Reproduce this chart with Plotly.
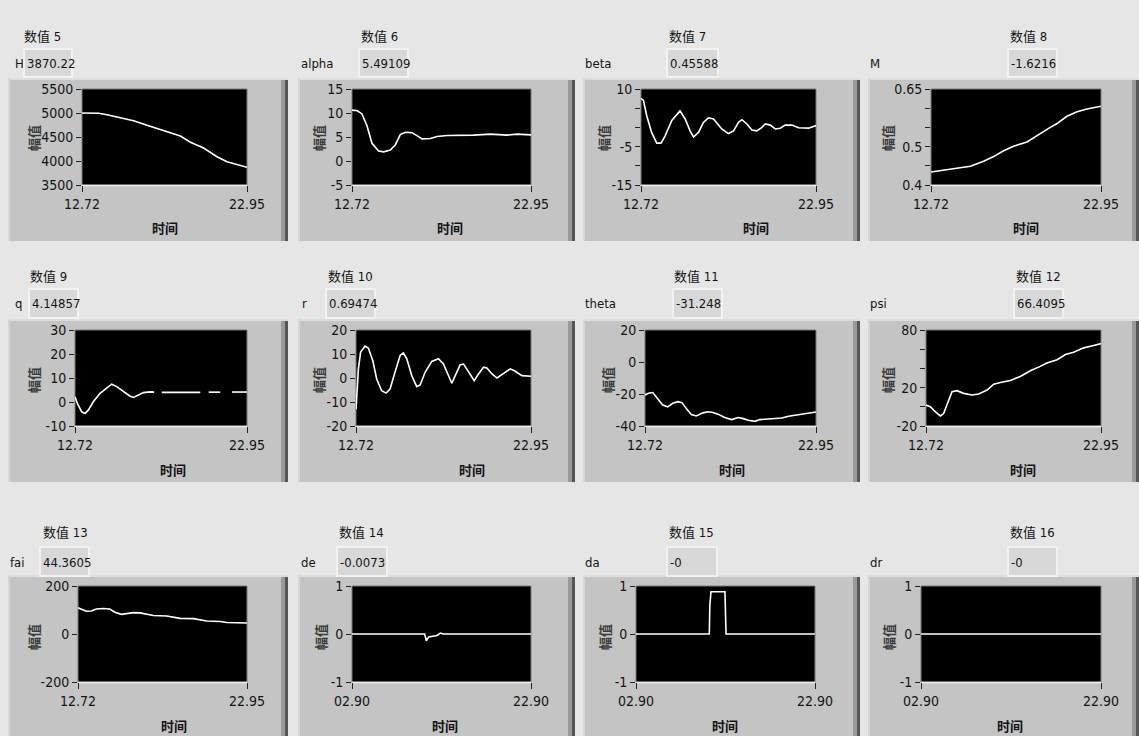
import plotly.graph_objects as go

# ---------------- data ----------------
t_H = [12.72, 13.75, 14.27, 15.92, 16.75, 17.58, 18.82, 19.44, 20.26, 21.09, 21.71, 22.95]
H_vals = [5000, 4995, 4965, 4840, 4745, 4660, 4520, 4390, 4270, 4090, 3985, 3870]

t_alpha = [12.72, 13.01, 13.29, 13.58, 13.86, 14.24, 14.53, 14.91, 15.20, 15.48, 15.77, 16.15,
           16.43, 16.72, 17.20, 17.58, 18.15, 18.72, 19.67, 20.63, 21.58, 22.15, 22.95]
alpha_vals = [10.6, 10.5, 9.8, 7.3, 3.7, 2.1, 1.9, 2.3, 3.4, 5.5, 6.0, 5.9,
              5.3, 4.6, 4.7, 5.1, 5.3, 5.3, 5.4, 5.6, 5.4, 5.6, 5.45]

t_beta = [12.72, 12.86, 13.05, 13.34, 13.64, 13.89, 14.13, 14.52, 15.00, 15.30, 15.59, 15.79,
          16.08, 16.37, 16.66, 16.96, 17.44, 17.83, 18.13, 18.42, 18.62, 18.91, 19.20, 19.49,
          19.79, 19.98, 20.28, 20.57, 20.86, 21.15, 21.54, 21.93, 22.52, 22.95]
beta_vals = [7.5, 7.1, 3.1, -1.3, -4.1, -4.1, -2.2, 1.8, 4.3, 2.2, -0.9, -2.5,
             -1.3, 1.3, 2.5, 2.2, -0.4, -1.6, -0.9, 1.3, 2.0, 0.9, -0.7, -0.9,
             0.0, 0.9, 0.6, -0.4, -0.2, 0.6, 0.6, -0.1, -0.2, 0.46]

t_M = [12.72, 13.08, 13.68, 14.49, 15.09, 15.89, 16.49, 17.09, 17.69, 18.50, 19.10, 19.70,
       20.30, 20.90, 21.51, 22.11, 22.95]
M_vals = [0.434, 0.436, 0.440, 0.445, 0.449, 0.462, 0.474, 0.489, 0.501, 0.512, 0.529, 0.545,
          0.560, 0.579, 0.591, 0.598, 0.605]

t_q = [12.72, 12.86, 13.12, 13.32, 13.51, 13.81, 14.21, 14.61, 14.90, 15.20, 15.60, 15.98,
       16.20, 16.49, 16.79, 17.19, 17.43, 17.60, 17.88, 20.17, 20.40, 20.67, 21.36, 21.70,
       22.06, 22.95]
q_vals = [2.2, -0.6, -4.1, -4.8, -3.4, 0.1, 3.6, 6.0, 7.4, 6.4, 4.3, 2.5,
          1.9, 2.9, 3.9, 4.2, 4.1, None, 4.0, 4.0, None, 4.1, 4.1, None,
          4.15, 4.15]

t_r = [12.72, 12.86, 12.99, 13.25, 13.44, 13.70, 13.93, 14.22, 14.48, 14.71, 15.00, 15.30,
       15.49, 15.69, 15.98, 16.27, 16.47, 16.76, 17.15, 17.54, 17.83, 18.13, 18.32, 18.52,
       18.81, 19.01, 19.30, 19.63, 19.88, 20.18, 20.37, 20.67, 20.96, 21.25, 21.74, 22.03,
       22.42, 22.95]
r_vals = [-13.1, 3.8, 10.8, 13.3, 12.5, 7.3, -0.4, -5.3, -6.3, -4.6, 2.4, 9.4,
          10.4, 8.0, 1.0, -3.6, -2.9, 2.4, 6.9, 8.0, 5.9, 1.0, -2.2, 1.0,
          5.5, 5.8, 2.4, -1.1, 1.7, 4.5, 4.2, 1.7, 0.0, 1.4, 3.8, 2.8,
          1.0, 0.7]

t_theta = [12.72, 12.92, 13.18, 13.48, 13.78, 14.08, 14.38, 14.69, 14.93, 15.19, 15.49, 15.79,
           16.19, 16.49, 16.79, 17.09, 17.49, 17.90, 18.30, 18.60, 18.90, 19.30, 19.60, 20.10,
           20.90, 21.31, 22.11, 22.51, 22.95]
theta_vals = [-20.6, -19.5, -19.1, -23.3, -26.9, -28.0, -25.8, -24.8, -25.4, -29.0, -32.8, -33.7,
              -31.8, -31.1, -31.6, -32.6, -34.7, -36.0, -34.7, -35.4, -36.4, -37.1, -36.0, -35.6,
              -35.0, -33.9, -32.8, -32.2, -31.2]

t_psi = [12.72, 12.97, 13.27, 13.56, 13.75, 13.99, 14.24, 14.53, 14.92, 15.41, 15.80, 16.29,
         16.68, 17.07, 17.65, 18.23, 18.82, 19.40, 19.79, 20.38, 20.87, 21.35, 21.94, 22.52,
         22.95]
psi_vals = [1.8, 0.0, -5.3, -9.5, -7.0, 5.3, 15.8, 16.8, 14.0, 12.3, 13.3, 17.5,
            23.5, 25.3, 27.4, 31.6, 37.5, 42.1, 45.6, 49.1, 54.4, 56.8, 61.4, 63.9,
            65.8]

t_fai = [12.72, 12.92, 13.23, 13.53, 13.83, 14.24, 14.64, 14.95, 15.35, 15.66, 16.06, 16.47,
         16.87, 17.28, 18.09, 18.49, 18.90, 19.71, 20.11, 20.52, 21.33, 21.73, 22.95]
fai_vals = [109, 104, 95, 96, 104, 106, 104, 91, 82, 85, 89, 88,
            81, 77, 75, 71, 65, 64, 60, 54, 52, 48, 46]

t_de = [2.90, 11.02, 11.21, 11.47, 12.40, 12.77, 13.07, 22.90]
de_vals = [0.0, 0.0, -0.14, -0.06, -0.03, 0.02, 0.0, 0.0]

t_da = [2.90, 11.09, 11.15, 11.28, 12.84, 12.88, 12.92, 12.96, 22.90]
da_vals = [0.0, 0.0, 0.6, 0.88, 0.88, 0.52, 0.52, 0.0, 0.0]

t_dr = [2.90, 22.90]
dr_vals = [0.0, 0.0]

names = ["H", "alpha", "beta", "M", "q", "r", "theta", "psi", "fai", "de", "da", "dr"]
number_labels = ["数值 5", "数值 6", "数值 7", "数值 8", "数值 9", "数值 10",
                 "数值 11", "数值 12", "数值 13", "数值 14", "数值 15", "数值 16"]
readouts = ["3870.22", "5.49109", "0.45588", "-1.6216", "4.14857", "0.69474",
            "-31.248", "66.4095", "44.3605", "-0.0073", "-0", "-0"]

x_ticks_a = [12.72, 22.95]
x_ticklabels_a = ["12.72", "22.95"]
x_ticks_b = [2.90, 22.90]
x_ticklabels_b = ["02.90", "22.90"]

y_ranges = [[3500, 5500], [-5, 15], [-15, 10], [0.4, 0.65], [-10, 30], [-20, 20],
            [-40, 20], [-20, 80], [-200, 200], [-1, 1], [-1, 1], [-1, 1]]
y_tickvals = [[3500, 4000, 4500, 5000, 5500], [-5, 0, 5, 10, 15], [-15, -10, -5, 0, 5, 10],
              [0.4, 0.45, 0.5, 0.55, 0.6, 0.65], [-10, 0, 10, 20, 30], [-20, -10, 0, 10, 20],
              [-40, -20, 0, 20], [-20, 0, 20, 40, 60, 80], [-200, 0, 200],
              [-1, 0, 1], [-1, 0, 1], [-1, 0, 1]]
y_ticktext = [["3500", "4000", "4500", "5000", "5500"], ["-5", "0", "5", "10", "15"],
              ["-15", "", "-5", "", "", "10"], ["0.4", "", "0.5", "", "", "0.65"],
              ["-10", "0", "10", "20", "30"], ["-20", "-10", "0", "10", "20"],
              ["-40", "-20", "0", "20"], ["-20", "", "20", "", "", "80"],
              ["-200", "0", "200"], ["-1", "0", "1"], ["-1", "0", "1"], ["-1", "0", "1"]]

series_t = [t_H, t_alpha, t_beta, t_M, t_q, t_r, t_theta, t_psi, t_fai, t_de, t_da, t_dr]
series_v = [H_vals, alpha_vals, beta_vals, M_vals, q_vals, r_vals, theta_vals, psi_vals,
            fai_vals, de_vals, da_vals, dr_vals]

# ---------------- layout geometry (pixels) ----------------
W, Hh = 1139, 736


def fx(x):
    return x / W


def fy(y):
    return 1 - y / Hh


rows = [
    dict(plot=(89, 185), frame=(78, 241), num=36, box=(49, 77), text=63, time=228, ylab=138),
    dict(plot=(330, 426), frame=(319, 482), num=277, box=(289, 318), text=303, time=469, ylab=380),
    dict(plot=(586, 682), frame=(575, 745), num=532, box=(547, 576), text=562, time=725, ylab=637),
]
frames_x = [(8, 288), (298, 575), (583, 860), (868, 1139)]

panels = [
    dict(plot=(82, 247), num=22, name=13, box=(24, 72), ylab=33, time=165),
    dict(plot=(352, 531), num=359, name=299, box=(359, 408), ylab=318, time=450),
    dict(plot=(641, 816), num=667, name=583, box=(667, 718), ylab=603, time=756),
    dict(plot=(931, 1101), num=1008, name=868, box=(1008, 1057), ylab=887, time=1026),
    dict(plot=(75, 247), num=28, name=13, box=(29, 78), ylab=33, time=173),
    dict(plot=(356, 531), num=326, name=300, box=(326, 375), ylab=318, time=472),
    dict(plot=(645, 816), num=672, name=583, box=(673, 722), ylab=607, time=732),
    dict(plot=(926, 1101), num=1014, name=868, box=(1014, 1063), ylab=887, time=1023),
    dict(plot=(78, 247), num=41, name=8, box=(40, 89), ylab=33, time=174),
    dict(plot=(352, 531), num=337, name=299, box=(337, 387), ylab=320, time=445),
    dict(plot=(636, 815), num=667, name=583, box=(667, 717), ylab=604, time=725),
    dict(plot=(921, 1101), num=1008, name=868, box=(1008, 1057), ylab=888, time=1010),
]

NARROW = "Liberation Sans Narrow, Arial Narrow, DejaVu Sans Condensed, Noto Sans CJK SC, sans-serif"
CJK = "Noto Sans CJK SC, sans-serif"
TXT = "#141414"

fig = go.Figure()
shapes = []
annotations = []
layout_axes = {}

# frames
for r in rows:
    fy0, fy1 = r["frame"]
    for (x0, x1) in frames_x:
        shapes.append(dict(type="rect", xref="paper", yref="paper", layer="below",
                           x0=fx(x0), x1=fx(x1), y0=fy(fy1), y1=fy(fy0),
                           fillcolor="#c4c4c4", line=dict(width=0)))
        shapes.append(dict(type="rect", xref="paper", yref="paper", layer="below",
                           x0=fx(x0), x1=fx(x1), y0=fy(fy0 + 2), y1=fy(fy0),
                           fillcolor="#dedede", line=dict(width=0)))
        shapes.append(dict(type="rect", xref="paper", yref="paper", layer="below",
                           x0=fx(x0), x1=fx(x0 + 2), y0=fy(fy1), y1=fy(fy0),
                           fillcolor="#d6d6d6", line=dict(width=0)))
        shapes.append(dict(type="rect", xref="paper", yref="paper", layer="below",
                           x0=fx(x1 - 7), x1=fx(x1 - 3), y0=fy(fy1), y1=fy(fy0 + 2),
                           fillcolor="#9a9a9a", line=dict(width=0)))
        shapes.append(dict(type="rect", xref="paper", yref="paper", layer="below",
                           x0=fx(x1 - 3), x1=fx(x1), y0=fy(fy1), y1=fy(fy0 + 2),
                           fillcolor="#555555", line=dict(width=0)))

for i, p in enumerate(panels):
    r = rows[i // 4]
    k = i + 1
    xa = "x" if k == 1 else f"x{k}"
    ya = "y" if k == 1 else f"y{k}"
    px0, px1 = p["plot"]
    py0, py1 = r["plot"]

    shapes.append(dict(type="rect", xref="paper", yref="paper", layer="below",
                       x0=fx(px0), x1=fx(px1), y0=fy(py1), y1=fy(py0),
                       fillcolor="black", line=dict(color="#7a7a7a", width=1)))
    shapes.append(dict(type="line", xref="paper", yref="paper", layer="below",
                       x0=fx(px0), x1=fx(px1), y0=fy(py1 + 0.5), y1=fy(py1 + 0.5),
                       line=dict(color="#eeeeee", width=1.5)))

    bx0, bx1 = p["box"]
    by0, by1 = r["box"]
    shapes.append(dict(type="rect", xref="paper", yref="paper", layer="below",
                       x0=fx(bx0), x1=fx(bx1), y0=fy(by1), y1=fy(by0),
                       fillcolor="#d8d8d8", line=dict(color="#f2f2f2", width=2)))

    xticks = x_ticks_b if i >= 9 else x_ticks_a
    xlabels = x_ticklabels_b if i >= 9 else x_ticklabels_a

    fig.add_trace(go.Scatter(x=series_t[i], y=series_v[i], mode="lines",
                             line=dict(color="white", width=1.6), connectgaps=False,
                             hoverinfo="skip", showlegend=False, xaxis=xa, yaxis=ya))

    layout_axes["xaxis" if k == 1 else f"xaxis{k}"] = dict(
        domain=[fx(px0), fx(px1)], anchor=ya, range=[xticks[0], xticks[1]],
        tickvals=xticks, ticktext=xlabels, ticks="outside", ticklen=6, tickwidth=1,
        tickcolor="#222222", showgrid=False, zeroline=False, showline=False,
        automargin=False,
        tickfont=dict(family=NARROW, size=14, color=TXT), fixedrange=True)
    layout_axes["yaxis" if k == 1 else f"yaxis{k}"] = dict(
        domain=[fy(py1), fy(py0)], anchor=xa, range=y_ranges[i],
        tickvals=y_tickvals[i], ticktext=y_ticktext[i], ticks="outside", ticklen=5,
        tickwidth=1, tickcolor="#222222", showgrid=False, zeroline=False, showline=False,
        automargin=False,
        tickfont=dict(family=NARROW, size=14, color=TXT), fixedrange=True)

    annotations.append(dict(xref="paper", yref="paper", x=fx(p["num"]), y=fy(r["num"]),
                            xanchor="left", yanchor="middle", showarrow=False,
                            text=number_labels[i], font=dict(family=NARROW, size=13, color=TXT)))
    annotations.append(dict(xref="paper", yref="paper", x=fx(p["name"]), y=fy(r["text"]),
                            xanchor="left", yanchor="middle", showarrow=False,
                            text=names[i], font=dict(family=NARROW, size=13, color=TXT)))
    annotations.append(dict(xref="paper", yref="paper", x=fx(bx0 + 1), y=fy(r["text"]),
                            xanchor="left", yanchor="middle", showarrow=False,
                            text=readouts[i], font=dict(family=NARROW, size=13, color=TXT)))
    annotations.append(dict(xref="paper", yref="paper", x=fx(p["time"]), y=fy(r["time"]),
                            xanchor="center", yanchor="middle", showarrow=False,
                            text="<b>时间</b>", font=dict(family=CJK, size=13, color=TXT)))
    annotations.append(dict(xref="paper", yref="paper", x=fx(p["ylab"]), y=fy(r["ylab"]),
                            xanchor="center", yanchor="middle", showarrow=False, textangle=-90,
                            text="<b>幅值</b>", font=dict(family=CJK, size=13, color="#3a3a3a")))

fig.update_layout(
    template="none",
    width=W, height=Hh, autosize=False,
    margin=dict(l=0, r=0, t=0, b=0, pad=0),
    paper_bgcolor="#e6e6e6", plot_bgcolor="rgba(0,0,0,0)",
    showlegend=False, shapes=shapes, annotations=annotations,
    **layout_axes,
)

fig.write_html("out.html", config=dict(displayModeBar=False, responsive=False),
               post_script="document.body.style.margin='0';document.body.style.overflow='hidden';")
